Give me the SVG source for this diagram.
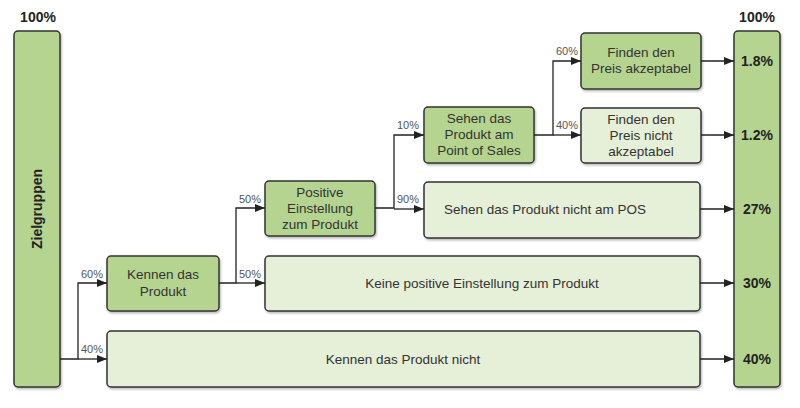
<svg xmlns="http://www.w3.org/2000/svg" width="800" height="408" viewBox="0 0 800 408">
<defs>
<marker id="ah" markerWidth="10" markerHeight="8" refX="10" refY="4" orient="auto" markerUnits="userSpaceOnUse"><path d="M0,0 L10,4 L0,8 z" fill="#222"/></marker>
<filter id="sh" x="-5%" y="-5%" width="115%" height="125%"><feDropShadow dx="1" dy="1.5" stdDeviation="1" flood-color="#000" flood-opacity="0.3"/></filter>
</defs>
<style>
text{font-family:"Liberation Sans",Arial,sans-serif;fill:#333}
.d{fill:#b5d490;stroke:#333;stroke-width:1.5;filter:url(#sh)}
.l{fill:#e6efd8;stroke:#333;stroke-width:1.5;filter:url(#sh)}
.t{font-size:13.5px;text-anchor:middle}
.p{font-size:11px;fill:#555}
.b{font-size:14px;font-weight:bold;text-anchor:middle;fill:#222}
.c{fill:none;stroke:#222;stroke-width:1.3}
</style>
<rect width="800" height="408" fill="#fff"/>
<g id="left"><text class="b" x="38" y="22">100%</text><rect class="d" x="14" y="31" width="46" height="356" rx="4"/><text class="b" transform="translate(42,209) rotate(-90)">Zielgruppen</text></g>
<g id="right"><text class="b" x="757" y="22">100%</text><rect class="d" x="734" y="31" width="46" height="356" rx="4"/>
<text class="b" x="757" y="66">1.8%</text><text class="b" x="757" y="140">1.2%</text><text class="b" x="757" y="214">27%</text><text class="b" x="757" y="288">30%</text><text class="b" x="757" y="364">40%</text></g>
<g id="kennen"><rect class="d" x="107" y="256" width="112" height="55" rx="4"/><text class="t" x="163" y="279">Kennen das</text><text class="t" x="163" y="296">Produkt</text></g>
<g id="kennen-nicht"><rect class="l" x="107" y="331" width="593" height="56" rx="4"/><text class="t" x="403" y="364">Kennen das Produkt nicht</text></g>
<g id="positiv"><rect class="d" x="265" y="181" width="110" height="55" rx="4"/><text class="t" x="320" y="197">Positive</text><text class="t" x="320" y="213">Einstellung</text><text class="t" x="320" y="229">zum Produkt</text></g>
<g id="keine"><rect class="l" x="265" y="256" width="435" height="55" rx="4"/><text class="t" x="482" y="288">Keine positive Einstellung zum Produkt</text></g>
<g id="sehen"><rect class="d" x="424" y="107" width="110" height="56" rx="4"/><text class="t" x="479" y="123">Sehen das</text><text class="t" x="479" y="139">Produkt am</text><text class="t" x="479" y="155">Point of Sales</text></g>
<g id="sehen-nicht"><rect class="l" x="424" y="182" width="276" height="56" rx="4"/><text class="t" x="545" y="214">Sehen das Produkt nicht am POS</text></g>
<g id="akzeptabel"><rect class="d" x="581" y="33" width="120" height="56" rx="4"/><text class="t" x="641" y="57">Finden den</text><text class="t" x="641" y="73">Preis akzeptabel</text></g>
<g id="nicht-akzeptabel"><rect class="l" x="581" y="108" width="120" height="55" rx="4"/><text class="t" x="641" y="124">Finden den</text><text class="t" x="641" y="140">Preis nicht</text><text class="t" x="641" y="156">akzeptabel</text></g>
<g id="connectors">
<path class="c" d="M60,359 H78 V283 H107" marker-end="url(#ah)"/><path class="c" d="M78,359 H107" marker-end="url(#ah)"/>
<path class="c" d="M219,283 H236 V208 H265" marker-end="url(#ah)"/><path class="c" d="M236,283 H265" marker-end="url(#ah)"/>
<path class="c" d="M375,208 H394 V135 H424" marker-end="url(#ah)"/><path class="c" d="M394,209 H424" marker-end="url(#ah)"/>
<path class="c" d="M534,135 H553 V61 H581" marker-end="url(#ah)"/><path class="c" d="M553,135 H581" marker-end="url(#ah)"/>
<path class="c" d="M701,61 H734" marker-end="url(#ah)"/><path class="c" d="M701,135 H734" marker-end="url(#ah)"/><path class="c" d="M700,209 H734" marker-end="url(#ah)"/><path class="c" d="M700,283 H734" marker-end="url(#ah)"/><path class="c" d="M700,359 H734" marker-end="url(#ah)"/>
<text class="p" x="81" y="278">60%</text><text class="p" x="81" y="353">40%</text>
<text class="p" x="239" y="203">50%</text><text class="p" x="239" y="278">50%</text>
<text class="p" x="397" y="129">10%</text><text class="p" x="397" y="203">90%</text>
<text class="p" x="556" y="55">60%</text><text class="p" x="556" y="129">40%</text>
</g>
</svg>
